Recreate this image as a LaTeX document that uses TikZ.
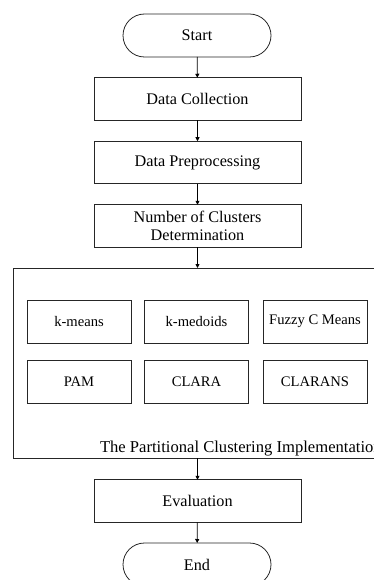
\documentclass[tikz,border=0pt]{standalone}
\usepackage{fontspec}
\setmainfont{Liberation Serif}
\usetikzlibrary{arrows.meta}
\begin{document}
\begin{tikzpicture}[x=1pt,y=-1pt,
  every node/.style={inner sep=0pt,outer sep=0pt},
  flow/.style={draw=black!85,line width=0.8pt,minimum width=207pt,minimum height=42.5pt,font=\fontsize{16.2}{17}\selectfont,align=center},
  term/.style={draw=black!85,line width=0.8pt,rounded corners=21.5pt,minimum width=148pt,minimum height=43pt,font=\fontsize{16.2}{17}\selectfont},
  algo/.style={draw=black!85,line width=0.8pt,minimum width=104pt,minimum height=43pt,font=\fontsize{14.6}{16}\selectfont},
  conn/.style={draw=black,line width=0.8pt,-{Triangle[length=4pt,width=4pt]}}]
\useasboundingbox (0,0) rectangle (374,580);
\clip (0,0) rectangle (374,580);
\node[term] (start) at (197,35.5) {Start};
\node[flow] (dc) at (197.5,99) {Data Collection};
\node[flow] (dp) at (197.5,162.5) {Data Preprocessing};
\node[flow,font=\fontsize{16.2}{17.5}\selectfont] (ncd) at (197.5,226) {Number of Clusters\\Determination};
\node[draw=black!85,line width=0.8pt,minimum width=500pt,minimum height=190pt,anchor=north west] (impl) at (13,268) {};
\node[algo] (km) at (79,321.5) {k-means};
\node[algo] (kmed) at (196.5,321.5) {k-medoids};
\node[algo] (fcm) at (315,321.5) {Fuzzy C Means};
\node[algo] (pam) at (79,381.5) {PAM};
\node[algo] (clara) at (196.5,381.5) {CLARA};
\node[algo] (clarans) at (315,381.5) {CLARANS};
\node[anchor=base west,font=\fontsize{16.6}{17}\selectfont] (lbl) at (100,452.5) {The Partitional Clustering Implementation};
\node[flow] (ev) at (197.5,501) {Evaluation};
\node[term] (end) at (197,564.5) {End};
\draw[conn] (start) -- (dc);
\draw[conn] (dc) -- (dp);
\draw[conn] (dp) -- (ncd);
\draw[conn] (ncd.south) -- (ncd.south |- impl.north);
\draw[conn] (ev.north |- impl.south) -- (ev.north);
\draw[conn] (ev) -- (end);
\end{tikzpicture}
\end{document}
